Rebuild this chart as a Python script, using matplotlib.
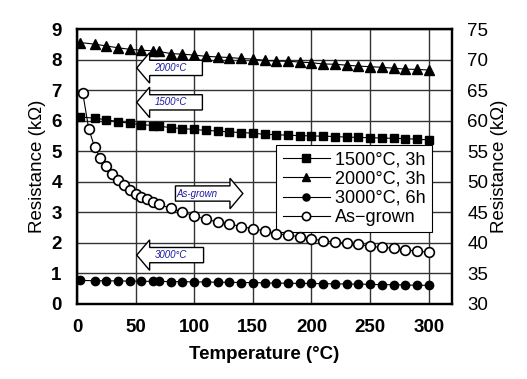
import matplotlib
matplotlib.use("Agg")
import matplotlib.pyplot as plt
from matplotlib.patches import FancyArrow

# ---- data ----
temp_main = [3, 15, 25, 35, 45, 55, 65, 70, 80, 90, 100, 110, 120, 130, 140, 150,
             160, 170, 180, 190, 200, 210, 220, 230, 240, 250, 260, 270, 280, 290, 300]
r1500 = [6.12, 6.08, 6.03, 5.97, 5.91, 5.87, 5.84, 5.82, 5.77, 5.74, 5.71, 5.68, 5.66, 5.63,
         5.61, 5.59, 5.55, 5.54, 5.52, 5.51, 5.50, 5.49, 5.48, 5.46, 5.45, 5.44, 5.43, 5.42,
         5.41, 5.39, 5.37]
r2000 = [8.56, 8.51, 8.45, 8.39, 8.34, 8.31, 8.29, 8.27, 8.20, 8.18, 8.15, 8.11, 8.09, 8.07,
         8.04, 8.02, 7.98, 7.95, 7.95, 7.92, 7.90, 7.86, 7.85, 7.82, 7.79, 7.77, 7.75, 7.72,
         7.69, 7.68, 7.66]
r3000 = [0.76, 0.75, 0.75, 0.74, 0.74, 0.73, 0.73, 0.73, 0.72, 0.72, 0.71, 0.71, 0.70, 0.70,
         0.69, 0.69, 0.68, 0.67, 0.67, 0.66, 0.66, 0.65, 0.65, 0.64, 0.64, 0.63, 0.62, 0.62,
         0.61, 0.60, 0.60]
temp_asgrown = [5, 10, 15, 20, 25, 30, 35, 40, 45, 50, 55, 60, 65, 70, 80, 90, 100, 110, 120,
                130, 140, 150, 160, 170, 180, 190, 200, 210, 220, 230, 240, 250, 260, 270,
                280, 290, 300]
r_asgrown = [64.5, 58.7, 55.7, 53.8, 52.5, 51.2, 50.2, 49.4, 48.7, 48.0, 47.5, 47.1, 46.6,
             46.3, 45.6, 45.0, 44.4, 43.8, 43.4, 43.1, 42.6, 42.3, 41.9, 41.4, 41.3, 40.9,
             40.6, 40.3, 40.1, 39.9, 39.7, 39.4, 39.2, 39.1, 38.8, 38.6, 38.4]

x_ticks = [0, 50, 100, 150, 200, 250, 300]
left_ticks = list(range(0, 10))
right_ticks = list(range(30, 80, 5))

# annotation arrows: label, tail x, tip x, y, text x
arrow_labels = ['2000\u00b0C', '1500\u00b0C', 'As-grown', '3000\u00b0C']
arrow_tail = [107, 107, 84, 108]
arrow_tip = [51, 51, 141.5, 51]
arrow_y = [7.73, 6.60, 3.61, 1.59]
arrow_textx = [80, 80, 102, 80]

plt.rcParams['font.family'] = ['Liberation Sans', 'DejaVu Sans']

fig = plt.figure(figsize=(5.27, 3.79), dpi=100)
ax = fig.add_axes([0.146, 0.199, 0.712, 0.724])
ax2 = ax.twinx()

l1, = ax.plot(temp_main, r1500, color='black', lw=0.8, marker='s', ms=6, mfc='black',
              label='1500\u00b0C, 3h')
l2, = ax.plot(temp_main, r2000, color='black', lw=0.8, marker='^', ms=7, mfc='black',
              label='2000\u00b0C, 3h')
l3, = ax.plot(temp_main, r3000, color='black', lw=0.8, marker='o', ms=6, mfc='black',
              label='3000\u00b0C, 6h')
l4, = ax2.plot(temp_asgrown, r_asgrown, color='black', lw=0.8, marker='o', ms=7, mfc='white',
               mew=1.2, label='As\u2212grown')

ax.set_xlim(0, 320)
ax.set_ylim(0, 9)
ax2.set_ylim(30, 75)
ax.set_xticks(x_ticks)
ax.set_yticks(left_ticks)
ax2.set_yticks(right_ticks)
ax.grid(True, color='#333333', lw=1.0)
ax.set_axisbelow(True)

for t in ax.get_xticklabels() + ax.get_yticklabels():
    t.set_fontweight('bold')
    t.set_fontsize(13.5)
for t in ax2.get_yticklabels():
    t.set_fontsize(13.5)
ax.tick_params(axis='y', length=0, pad=11)
ax.tick_params(axis='x', length=0, pad=11)
ax2.tick_params(length=0, pad=11)

for a in (ax, ax2):
    for s in a.spines.values():
        s.set_linewidth(1.6)

ax.set_xlabel('Temperature (\u00b0C)', fontsize=13.5, fontweight='bold', labelpad=7)
ax.set_ylabel('Resistance (k\u03a9)', fontsize=13.5, labelpad=4)
ax2.set_ylabel('Resistance (k\u03a9)', fontsize=13.5, labelpad=2)

leg = ax.legend(handles=[l1, l2, l3, l4], loc='upper right', bbox_to_anchor=(0.97, 0.61),
                fontsize=13, frameon=True, fancybox=False, edgecolor='black',
                framealpha=1, labelspacing=0.12, handlelength=2.6, handletextpad=0.3,
                borderpad=0.35, markerscale=0.85)
leg.get_frame().set_linewidth(0.8)

for lab, xt, xp, yy, tx in zip(arrow_labels, arrow_tail, arrow_tip, arrow_y, arrow_textx):
    arr = FancyArrow(xt, yy, xp - xt, 0, width=0.5, head_width=1.0, head_length=11,
                     length_includes_head=True, fc='white', ec='black', lw=1.0, zorder=3)
    ax.add_patch(arr)
    ax.text(tx, yy, lab, fontsize=7, color='#1a1aa0', style='italic', va='center',
            ha='center', zorder=4)

fig.savefig('out.png', dpi=100)
